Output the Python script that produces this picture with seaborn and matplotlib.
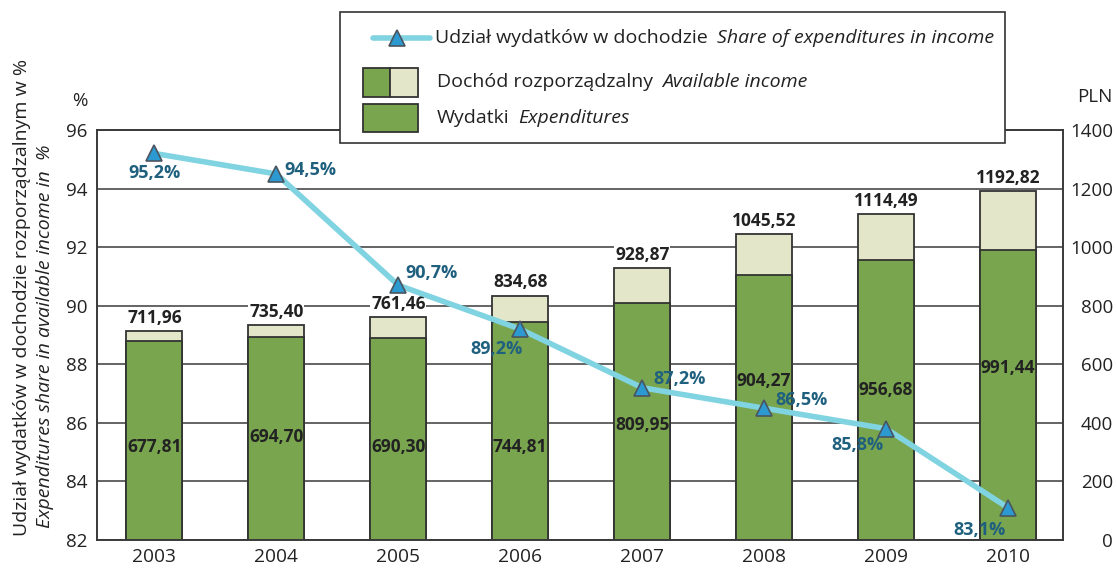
import matplotlib
matplotlib.use("Agg")
import matplotlib.pyplot as plt
import seaborn as sns
import pandas as pd
import numpy as np
from matplotlib.patches import Rectangle
from matplotlib.lines import Line2D

# ---------------- data ----------------
years = ["2003", "2004", "2005", "2006", "2007", "2008", "2009", "2010"]
income = [711.96, 735.40, 761.46, 834.68, 928.87, 1045.52, 1114.49, 1192.82]
expenditures = [677.81, 694.70, 690.30, 744.81, 809.95, 904.27, 956.68, 991.44]
share = [95.2, 94.5, 90.7, 89.2, 87.2, 86.5, 85.8, 83.1]
left_ticks = [82, 84, 86, 88, 90, 92, 94, 96]
right_ticks = [0, 200, 400, 600, 800, 1000, 1200, 1400]

# label placement (styling, not data)
exp_label_y = [318, 352, 318, 318, 393, 543, 512, 587]
pct_offsets = [(0, -14, "center"), (6, 3, "left"), (5, 9, "left"), (2, -14, "right"),
               (8, 6.5, "left"), (8, 6, "left"), (-2, -11.5, "right"), (-1.5, -16, "right")]

GREEN = "#79A54F"
LIGHT = "#E3E6C9"
EDGE = "#333333"
CYAN = "#80D3E0"
MARK = "#2C9AD1"
PCT = "#1F607F"
TXT = "#222222"

W, H = 1117, 568

sns.set_theme(style="white")
plt.rcParams["font.family"] = ["Open Sans", "DejaVu Sans"]

fig = plt.figure(figsize=(W / 100, H / 100), dpi=100)
ax = fig.add_axes([97 / W, 1 - 540 / H, (1063 - 97) / W, (540 - 130) / H])

df = pd.DataFrame({"year": years, "income": income, "exp": expenditures})

sns.barplot(data=df, x="year", y="income", color=LIGHT, saturation=1, width=0.46,
            edgecolor=EDGE, linewidth=1.3, ax=ax, zorder=2)
sns.barplot(data=df, x="year", y="exp", color=GREEN, saturation=1, width=0.46,
            edgecolor=EDGE, linewidth=1.3, ax=ax, zorder=3)

ax.set_ylim(0, 1400)
ax.set_xlim(-0.47, 7.45)
ax.set_yticks(right_ticks)
ax.set_xlabel("")
ax.set_ylabel("")
ax.grid(axis="y", color="#3a3a3a", lw=1.1)
ax.set_axisbelow(True)
for s in ax.spines.values():
    s.set_color("#3a3a3a")
    s.set_linewidth(1.2)

# bar value labels
for i, (inc, ex) in enumerate(zip(income, expenditures)):
    ax.text(i, inc + 14, f"{inc:.2f}".replace(".", ","), ha="center", va="bottom",
            fontsize=12.5, fontweight="bold", color=TXT, zorder=5,
            bbox=dict(facecolor="white", edgecolor="none", pad=0.5))
    ax.text(i, exp_label_y[i], f"{ex:.2f}".replace(".", ","), ha="center", va="center",
            fontsize=12.5, fontweight="bold", color=TXT, zorder=5)

# line on twin axis (percent, ticks on left)
ax2 = ax.twinx()
ax2.set_ylim(82, 96)
ax2.set_yticks(left_ticks)
pos = np.arange(len(years))
sns.lineplot(x=pos, y=share, ax=ax2, color=CYAN, lw=4, marker="^", markersize=12,
             markerfacecolor=MARK, markeredgecolor="#4a5560", markeredgewidth=1.2, zorder=4)
ax2.set_ylabel("")
ax2.set_xlim(-0.47, 7.45)
for s in ax2.spines.values():
    s.set_color("#3a3a3a")
    s.set_linewidth(1.2)

# place tick sides after twinx
ax.yaxis.tick_right()
ax2.yaxis.tick_left()
ax.tick_params(axis="y", length=0, labelsize=13.5, colors=TXT, pad=36)
for lbl in ax.get_yticklabels():
    lbl.set_horizontalalignment("right")
ax.tick_params(axis="x", length=0, labelsize=13.8, colors=TXT, pad=6)
ax2.tick_params(axis="y", length=0, labelsize=13.5, colors=TXT, pad=7)

for i, v in enumerate(share):
    dx, dy, ha = pct_offsets[i]
    ax2.annotate(f"{v:.1f}%".replace(".", ","), (pos[i], v), xytext=(dx, dy),
                 textcoords="offset points", ha=ha, va="center", fontsize=13,
                 fontweight="bold", color=PCT, zorder=6)

# axis unit labels
fig.text(80 / W, 1 - 101 / H, "%", ha="center", va="center", fontsize=13.5, color=TXT)
fig.text(1095 / W, 1 - 97 / H, "PLN", ha="center", va="center", fontsize=13.5, color=TXT)

# rotated y label (two lines)
fig.text(22 / W, 1 - 536 / H, "Udział wydatków w dochodzie rozporządzalnym w %",
         rotation=90, rotation_mode="anchor", ha="left", va="center", fontsize=14, color=TXT)
fig.text(45 / W, 1 - 528 / H, "Expenditures share in available income in  %",
         rotation=90, rotation_mode="anchor", ha="left", va="center", fontsize=14,
         style="italic", color=TXT)

# ---------------- legend (manual box) ----------------
fig.add_artist(Rectangle((340 / W, 1 - 143 / H), (1005 - 340) / W, (143 - 12) / H,
                         transform=fig.transFigure, facecolor="white", edgecolor="#333333",
                         lw=1.2, zorder=10))
fig.add_artist(Line2D([373 / W, 430 / W], [1 - 38 / H, 1 - 38 / H], transform=fig.transFigure,
                      color=CYAN, lw=4, zorder=11, solid_capstyle="round"))
fig.add_artist(Line2D([397 / W], [1 - 38 / H], transform=fig.transFigure, marker="^",
                      markersize=12, markerfacecolor=MARK, markeredgecolor="#4a5560",
                      markeredgewidth=1.2, zorder=12))
fig.add_artist(Rectangle((363 / W, 1 - 97 / H), 27 / W, 29 / H, transform=fig.transFigure,
                         facecolor=GREEN, edgecolor=EDGE, lw=1.3, zorder=11))
fig.add_artist(Rectangle((390 / W, 1 - 97 / H), 28 / W, 29 / H, transform=fig.transFigure,
                         facecolor=LIGHT, edgecolor=EDGE, lw=1.3, zorder=11))
fig.add_artist(Rectangle((363 / W, 1 - 132 / H), 55 / W, 28 / H, transform=fig.transFigure,
                         facecolor=GREEN, edgecolor=EDGE, lw=1.3, zorder=11))

legend_rows = [
    (435, 38, "Udział wydatków w dochodzie", "Share of expenditures in income"),
    (437, 82, "Dochód rozporządzalny", "Available income"),
    (437, 118, "Wydatki", "Expenditures"),
]
fig.canvas.draw()
renderer = fig.canvas.get_renderer()
for x, y, normal, ital in legend_rows:
    t = fig.text(x / W, 1 - y / H, normal, ha="left", va="center", fontsize=14,
                 color=TXT, zorder=12)
    bb = t.get_window_extent(renderer=renderer)
    fig.text((bb.x1 + 9) / W, 1 - y / H, ital, ha="left", va="center", fontsize=14,
             style="italic", color=TXT, zorder=12)

fig.savefig("out.png", dpi=100)
